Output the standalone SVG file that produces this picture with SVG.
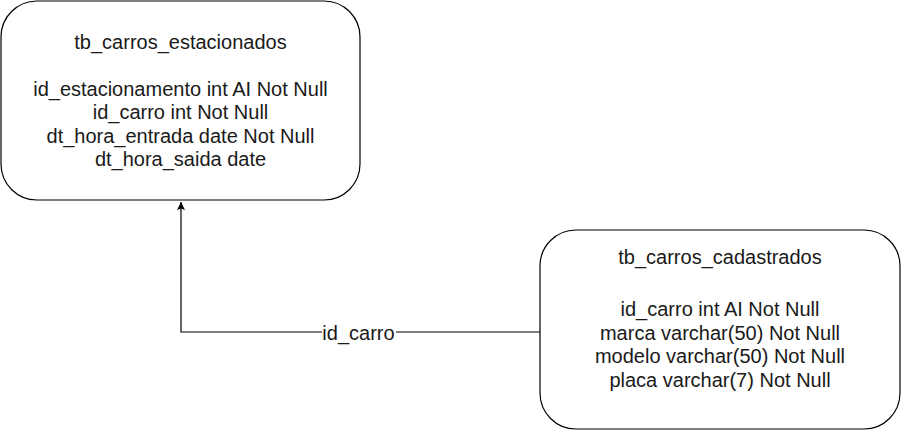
<svg xmlns="http://www.w3.org/2000/svg" width="901" height="431" viewBox="0 0 901 431">
<style>
.box{fill:#fff;stroke:#000;stroke-width:1.2}
.t{font-family:"Liberation Sans",Arial,sans-serif;font-size:20px;fill:#1a1a1a;text-anchor:middle}
.edge{fill:none;stroke:#000;stroke-width:1.2}
</style>
<defs>
<marker id="arr" markerWidth="10" markerHeight="10" refX="8" refY="4" orient="auto" markerUnits="userSpaceOnUse">
<path d="M0,0 L8,4 L0,8 L1.5,4 Z" fill="#000"/>
</marker>
</defs>
<rect width="901" height="431" fill="#fff"/>
<g id="connectors">
<path class="edge" d="M540,332 H181 V202" marker-end="url(#arr)"/>
<rect x="322" y="320" width="74" height="22" fill="#fff"/>
<text class="t" x="358.5" y="339.5">id_carro</text>
</g>
<g id="tb_carros_estacionados">
<rect class="box" x="1" y="1" width="359" height="199" rx="36" ry="36"/>
<text class="t" x="180.5" y="48.5">tb_carros_estacionados</text>
<text class="t" x="180.5" y="95.5">id_estacionamento int AI Not Null</text>
<text class="t" x="180.5" y="119">id_carro int Not Null</text>
<text class="t" x="180.5" y="142.5">dt_hora_entrada date Not Null</text>
<text class="t" x="180.5" y="166">dt_hora_saida date</text>
</g>
<g id="tb_carros_cadastrados">
<rect class="box" x="540" y="230" width="360" height="199" rx="36" ry="36"/>
<text class="t" x="720" y="264">tb_carros_cadastrados</text>
<text class="t" x="720" y="316">id_carro int AI Not Null</text>
<text class="t" x="720" y="339.5">marca varchar(50) Not Null</text>
<text class="t" x="720" y="363">modelo varchar(50) Not Null</text>
<text class="t" x="720" y="386.5">placa varchar(7) Not Null</text>
</g>
</svg>
